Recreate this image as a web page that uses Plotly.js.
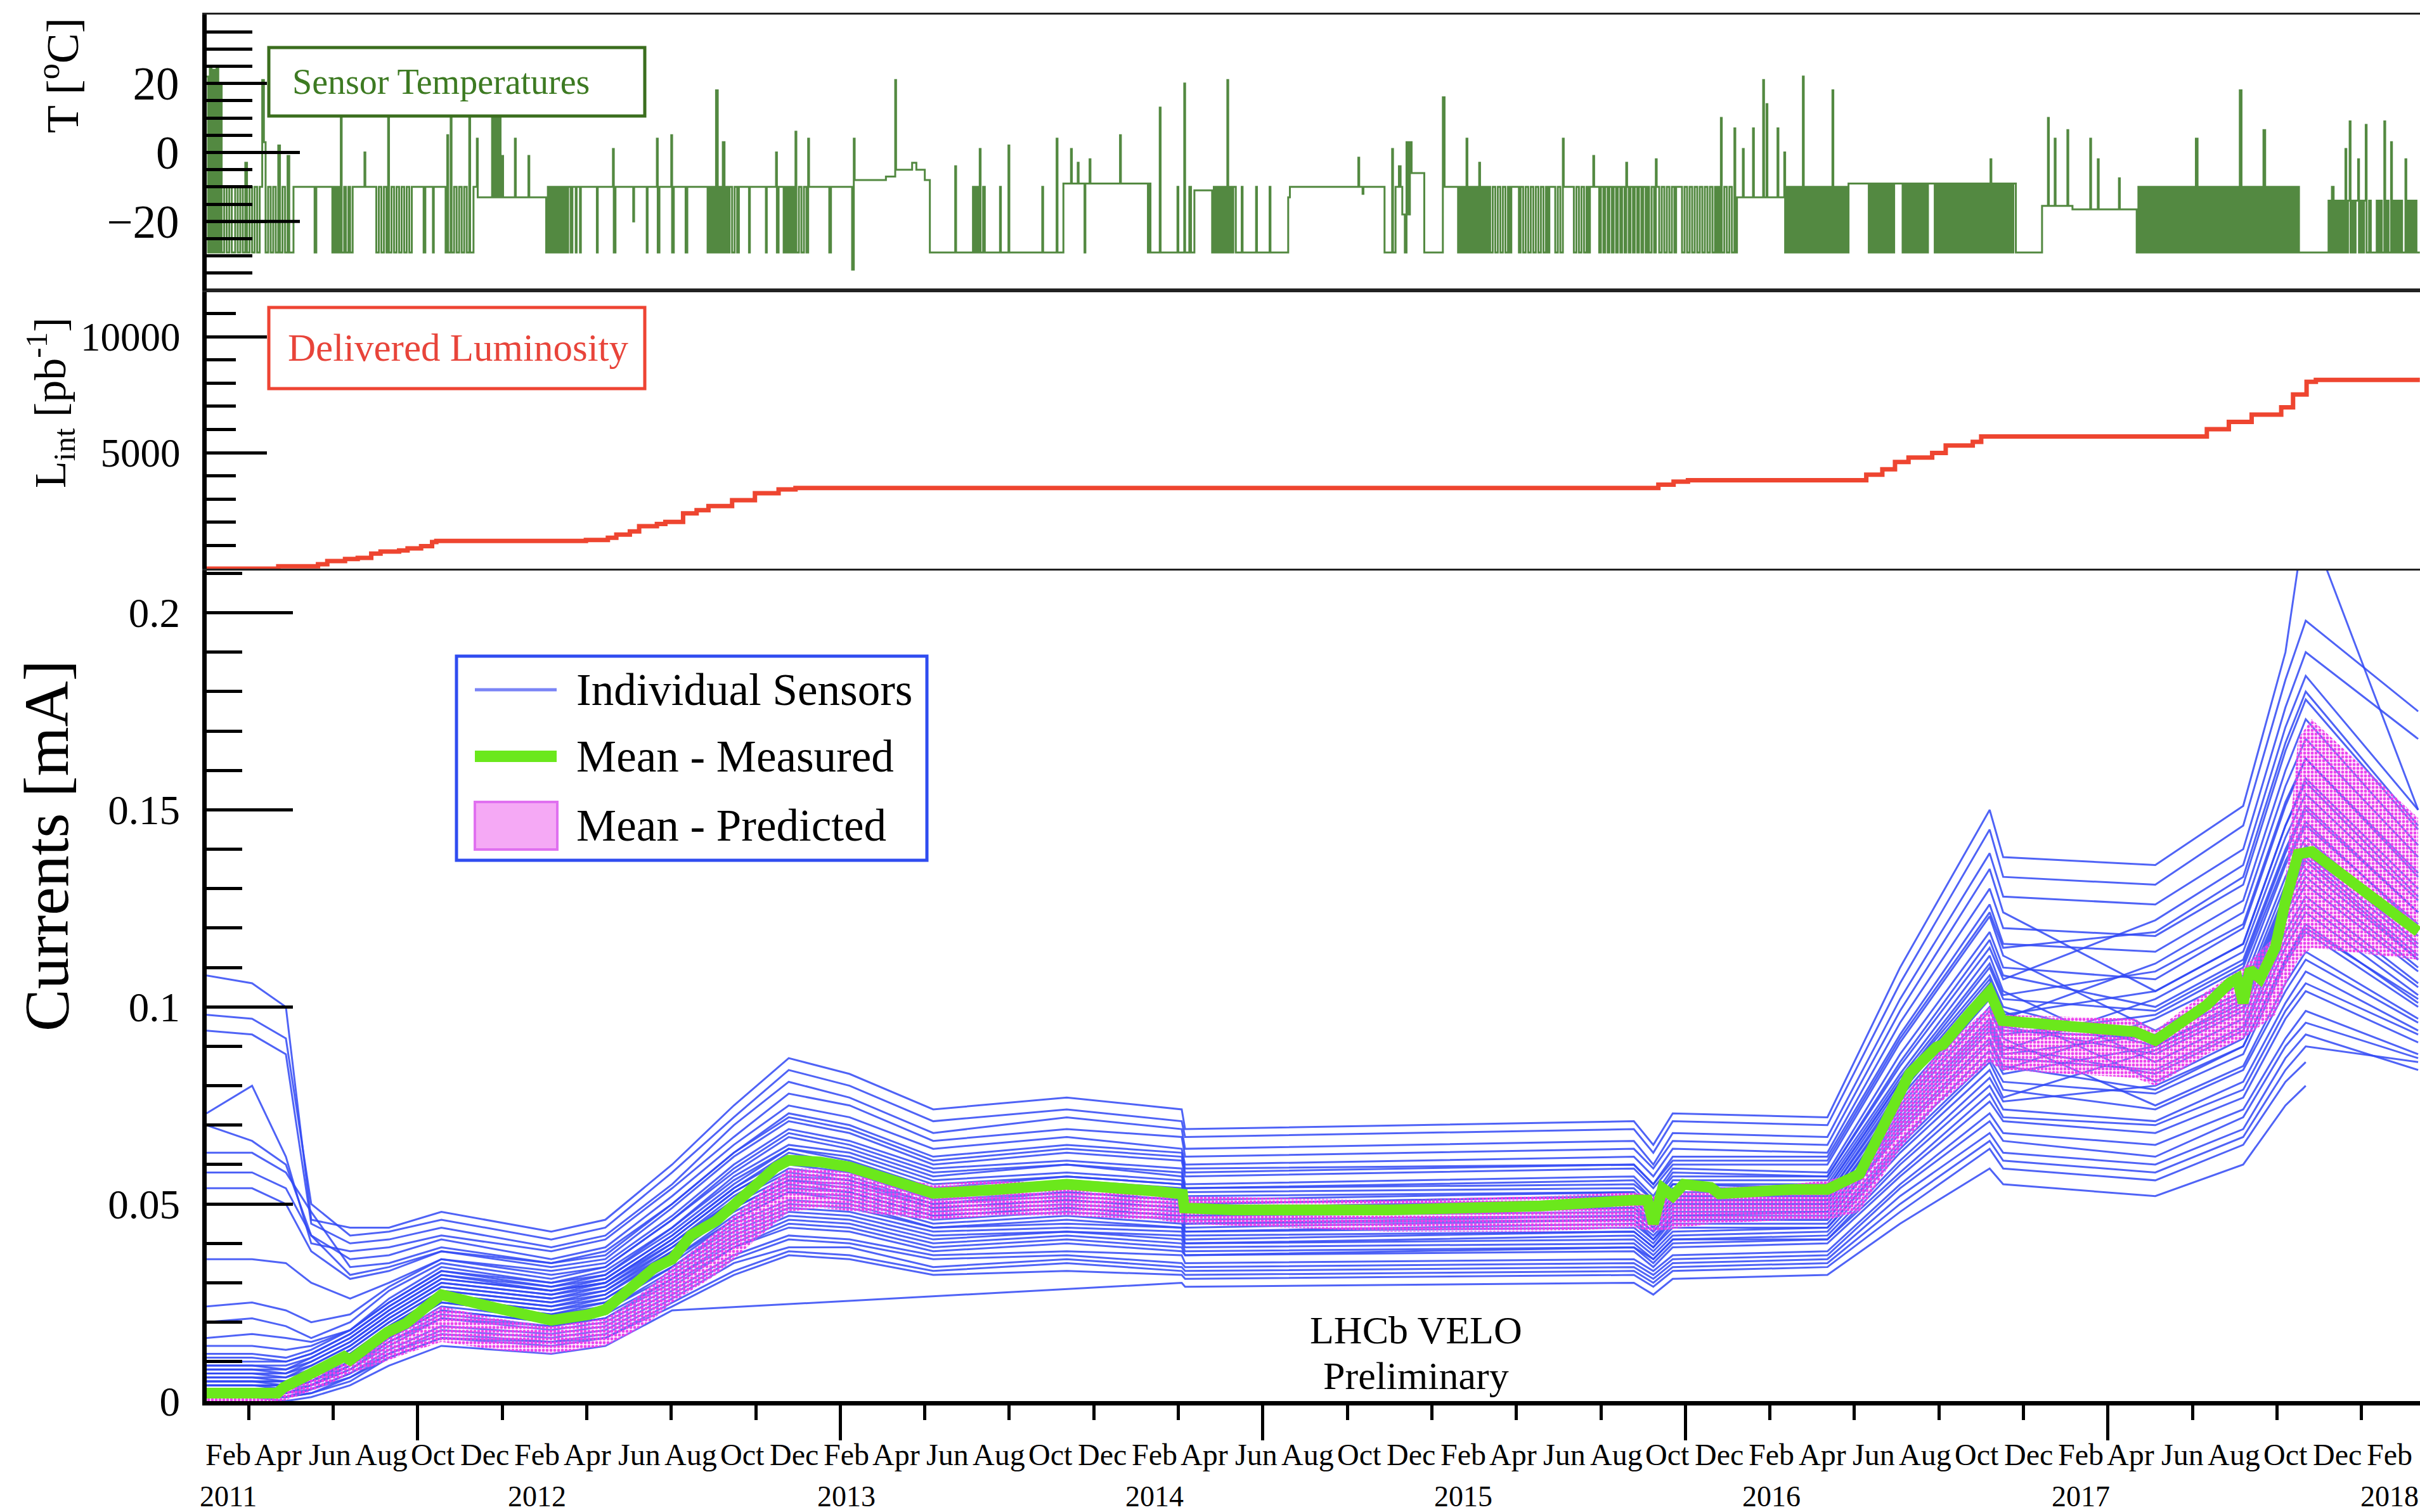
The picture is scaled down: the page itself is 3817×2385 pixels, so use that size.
<!DOCTYPE html>
<html>
<head>
<meta charset="utf-8">
<script src="https://cdn.plot.ly/plotly-3.0.1.min.js"></script>
<style>
  html, body { margin: 0; padding: 0; background: #ffffff; overflow: hidden; }
  #chart { width: 3817px; height: 2385px; }
</style>
</head>
<body>
<div id="chart"></div>
<script>
// ---------------------------------------------------------------------------
// Sensor temperature log [deg C]: change points of a step-wise reading
// ---------------------------------------------------------------------------
const tempReadings = [
  ['2011-01-06',22],['2011-01-08',-29],['2011-01-10',25],['2011-01-12',-29],['2011-01-14',24],['2011-01-16',-29],
  ['2011-01-18',25],['2011-01-20',-29],['2011-01-22',20],['2011-01-24',-29],['2011-01-27',-10],['2011-01-30',-29],
  ['2011-02-02',-10],['2011-02-05',-29],['2011-02-09',-10],['2011-02-12',-29],['2011-02-15',-10],['2011-02-18',-29],
  ['2011-02-21',-3],['2011-02-23',-29],['2011-02-26',-10],['2011-03-01',-29],['2011-03-04',-10],['2011-03-07',-29],
  ['2011-03-10',-10],['2011-03-13',21],['2011-03-15',3],['2011-03-17',-29],['2011-03-20',-10],['2011-03-23',-29],
  ['2011-03-26',-10],['2011-03-29',-29],['2011-04-01',2],['2011-04-03',-29],['2011-04-06',-10],['2011-04-09',-29],
  ['2011-04-12',-1],['2011-04-14',-29],['2011-04-19',-10],
  ['2011-05-14',-29],['2011-05-16',-10],['2011-06-04',-29],['2011-06-06',-10],['2011-06-08',-29],['2011-06-10',-10],
  ['2011-06-12',-29],['2011-06-14',10],['2011-06-15',-29],['2011-06-18',-10],['2011-06-20',-29],['2011-06-23',-10],
  ['2011-06-25',-29],['2011-06-28',-10],['2011-07-12',0],['2011-07-13',-10],['2011-07-26',-29],['2011-07-29',-10],
  ['2011-08-01',-29],['2011-08-04',-10],['2011-08-07',-29],['2011-08-09',10],['2011-08-10',-29],['2011-08-13',-10],
  ['2011-08-16',-29],['2011-08-19',-10],['2011-08-22',-29],['2011-08-25',-10],['2011-08-28',-29],['2011-08-31',-10],
  ['2011-09-03',-29],['2011-09-06',-10],['2011-09-20',-29],['2011-09-22',-10],['2011-10-01',-29],['2011-10-02',-10],
  ['2011-10-16',-29],['2011-10-18',5],['2011-10-19',-29],['2011-10-22',10],['2011-10-23',-29],['2011-10-26',-10],
  ['2011-10-29',-29],['2011-11-01',-10],['2011-11-04',-29],['2011-11-07',-10],['2011-11-10',-29],['2011-11-13',10],
  ['2011-11-14',-29],['2011-11-18',-10],['2011-11-22',4],['2011-11-23',-13],['2011-12-10',10],['2011-12-12',-13],
  ['2011-12-14',10],['2011-12-16',-13],['2011-12-18',10],['2011-12-20',-13],['2011-12-22',-1],['2011-12-23',-13],
  ['2012-01-06',4],['2012-01-07',-13],['2012-01-22',-1],['2012-01-23',-13],
  ['2012-02-12',-29],['2012-02-14',-10],['2012-02-16',-29],['2012-02-18',-10],['2012-02-20',-29],['2012-02-22',-10],
  ['2012-02-24',-29],['2012-02-26',-10],['2012-02-28',-29],['2012-03-01',-10],['2012-03-03',-29],['2012-03-05',-10],
  ['2012-03-07',-29],['2012-03-09',-10],['2012-03-12',-29],['2012-03-14',-10],['2012-03-18',-29],['2012-03-19',-10],
  ['2012-03-23',-29],['2012-03-24',-10],['2012-04-12',-29],['2012-04-13',-10],['2012-05-01',1],['2012-05-02',-29],
  ['2012-05-04',-10],['2012-05-25',-20],['2012-05-26',-10],['2012-06-10',-29],['2012-06-11',-10],['2012-06-22',4],
  ['2012-06-23',-29],['2012-06-25',-10],['2012-07-09',5],['2012-07-10',-29],['2012-07-12',-10],['2012-07-26',-29],
  ['2012-07-28',-10],['2012-08-21',-29],['2012-08-23',-10],['2012-08-25',-29],['2012-08-27',-10],['2012-08-29',-29],
  ['2012-08-31',18],['2012-09-02',-29],['2012-09-04',-10],['2012-09-06',-29],['2012-09-08',3],['2012-09-10',-29],
  ['2012-09-12',-10],['2012-09-14',-29],['2012-09-16',-10],['2012-09-19',-29],['2012-09-22',-10],['2012-09-25',-29],
  ['2012-09-27',-10],['2012-10-09',-29],['2012-10-10',-10],['2012-10-29',-29],['2012-10-30',-10],['2012-11-10',0],
  ['2012-11-11',-29],['2012-11-13',-10],['2012-11-19',-29],['2012-11-21',-10],['2012-11-23',-29],['2012-11-25',-10],
  ['2012-11-27',-29],['2012-11-29',-10],['2012-12-01',-29],['2012-12-03',6],['2012-12-04',-29],['2012-12-07',-10],
  ['2012-12-10',-29],['2012-12-13',-10],['2012-12-16',-29],['2012-12-18',4],['2012-12-19',-10],['2013-01-12',-29],
  ['2013-01-14',-10],['2013-02-08',-34],['2013-02-10',4],['2013-02-11',-8],['2013-03-20',-7],['2013-03-31',21],
  ['2013-04-01',-5],['2013-04-20',-3],['2013-04-25',-5],['2013-05-05',-8],['2013-05-11',-29],['2013-06-10',-4],
  ['2013-06-11',-29],['2013-07-01',-10],['2013-07-03',-29],['2013-07-05',-10],['2013-07-07',-29],['2013-07-09',1],
  ['2013-07-10',-29],['2013-07-13',-10],['2013-07-15',-29],['2013-08-02',-10],['2013-08-03',-29],['2013-08-12',2],
  ['2013-08-13',-29],['2013-09-21',-10],['2013-09-22',-29],['2013-10-08',4],['2013-10-09',-29],['2013-10-16',-9],
  ['2013-10-25',1],['2013-10-26',-9],['2013-11-02',-3],['2013-11-03',-9],['2013-11-10',-29],['2013-11-11',-9],
  ['2013-11-16',-2],['2013-11-17',-9],['2013-12-22',5],['2013-12-23',-9],['2014-01-24',-29],['2014-01-25',-9],
  ['2014-01-27',-29],['2014-02-07',13],['2014-02-08',-29],['2014-02-28',-10],['2014-03-01',-29],['2014-03-08',20],
  ['2014-03-09',-29],['2014-03-14',-10],['2014-03-16',-29],['2014-03-20',-11],['2014-04-10',-29],['2014-04-12',-10],
  ['2014-04-14',-29],['2014-04-16',-10],['2014-04-18',-29],['2014-04-20',-10],['2014-04-22',-29],['2014-04-24',-10],
  ['2014-04-26',-29],['2014-04-28',21],['2014-04-29',-29],['2014-05-01',-10],['2014-05-03',-29],['2014-05-05',-10],
  ['2014-05-08',-29],['2014-05-15',-10],['2014-05-16',-29],['2014-06-01',-10],['2014-06-02',-29],['2014-06-17',-10],
  ['2014-06-18',-29],
  ['2014-07-09',-13],['2014-07-11',-10],['2014-09-30',-1.5],['2014-10-01',-10],['2014-10-05',-12],['2014-10-06',-10],
  ['2014-10-31',-29],['2014-11-09',1],['2014-11-10',-29],['2014-11-13',-10],['2014-11-17',-4],['2014-11-19',-10],
  ['2014-11-21',-18],['2014-11-24',-29],['2014-11-26',3],['2014-11-28',-18],['2014-11-30',3],['2014-12-02',-6],
  ['2014-12-17',-29],['2015-01-08',16],['2015-01-10',-10],
  ['2015-01-26',-29],['2015-01-28',-10],['2015-01-30',-29],['2015-02-01',-10],['2015-02-03',-29],['2015-02-05',4],
  ['2015-02-06',-29],['2015-02-08',-10],['2015-02-10',-29],['2015-02-12',-10],['2015-02-14',-29],['2015-02-16',-10],
  ['2015-02-18',-29],['2015-02-20',-3],['2015-02-21',-29],['2015-02-23',-10],['2015-02-25',-29],['2015-02-27',-10],
  ['2015-03-01',-29],['2015-03-03',-10],['2015-03-05',-29],['2015-03-08',-10],['2015-03-11',-29],['2015-03-14',-10],
  ['2015-03-17',-29],['2015-03-20',-10],['2015-03-23',-29],['2015-03-26',-10],['2015-03-28',-29],['2015-03-30',-10],
  ['2015-04-08',-29],['2015-04-10',-10],['2015-04-13',-29],['2015-04-16',-10],['2015-04-19',-29],['2015-04-22',-10],
  ['2015-04-25',-29],['2015-04-28',-10],['2015-05-01',-29],['2015-05-04',-10],['2015-05-07',-29],['2015-05-10',-10],
  ['2015-05-12',-29],['2015-05-14',-10],['2015-05-21',-29],['2015-05-24',-10],['2015-05-27',-29],['2015-05-30',4],
  ['2015-05-31',-10],['2015-06-12',-29],['2015-06-15',-10],['2015-06-18',-29],['2015-06-21',-10],['2015-06-24',-29],
  ['2015-06-27',-10],['2015-06-29',-29],['2015-07-01',-10],['2015-07-05',-1],['2015-07-06',-10],
  ['2015-07-12',-29],['2015-07-14',-10],['2015-07-17',-29],['2015-07-19',-10],['2015-07-22',-29],['2015-07-24',-10],
  ['2015-07-27',-29],['2015-07-29',-10],['2015-08-01',-29],['2015-08-03',-10],['2015-08-06',-29],['2015-08-08',-10],
  ['2015-08-11',-29],['2015-08-13',-3],['2015-08-14',-10],['2015-08-16',-29],['2015-08-18',-10],['2015-08-21',-29],
  ['2015-08-23',-10],['2015-08-26',-29],['2015-08-28',-10],['2015-08-31',-29],['2015-09-02',-10],['2015-09-05',-29],
  ['2015-09-07',-10],['2015-09-09',-29],['2015-09-12',-10],['2015-09-15',-29],['2015-09-17',-2],['2015-09-18',-10],
  ['2015-09-21',-29],['2015-09-24',-10],['2015-09-27',-29],['2015-09-30',-10],['2015-10-03',-29],['2015-10-06',-10],
  ['2015-10-09',-29],['2015-10-11',-10],['2015-10-18',-29],['2015-10-21',-10],['2015-10-24',-29],['2015-10-27',-10],
  ['2015-10-30',-29],['2015-11-02',-10],['2015-11-05',-29],['2015-11-08',-10],['2015-11-11',-29],['2015-11-14',-10],
  ['2015-11-17',-29],['2015-11-20',-10],['2015-11-23',-29],['2015-11-26',-10],['2015-11-28',-29],['2015-11-30',-10],
  ['2015-12-02',-29],['2015-12-03',10],['2015-12-04',-29],['2015-12-07',-10],['2015-12-10',-29],['2015-12-13',-10],
  ['2015-12-16',-29],['2015-12-19',7],['2015-12-20',-29],['2015-12-22',-13],['2015-12-29',1],['2015-12-30',-13],
  ['2016-01-10',7],['2016-01-11',-13],['2016-01-22',21],['2016-01-23',-13],['2016-01-26',14],['2016-01-27',-13],
  ['2016-02-08',7],['2016-02-09',-13],['2016-02-16',0],
  ['2016-02-17',-29],['2016-02-19',-10],['2016-02-21',-29],['2016-02-23',-10],['2016-02-25',-29],['2016-02-27',-10],
  ['2016-02-29',-29],['2016-03-02',-10],['2016-03-04',-29],['2016-03-06',-10],['2016-03-08',-29],['2016-03-09',22],
  ['2016-03-10',-29],['2016-03-12',-10],['2016-03-14',-29],['2016-03-16',-10],['2016-03-18',-29],['2016-03-20',-10],
  ['2016-03-22',-29],['2016-03-24',-10],['2016-03-26',-29],['2016-03-28',-10],['2016-03-30',-29],['2016-04-01',-10],
  ['2016-04-03',-29],['2016-04-05',-10],['2016-04-07',-29],['2016-04-09',-10],['2016-04-11',-29],['2016-04-13',18],
  ['2016-04-14',-29],['2016-04-16',-10],['2016-04-18',-29],['2016-04-20',-10],['2016-04-22',-29],['2016-04-24',-10],
  ['2016-04-26',-29],['2016-04-28',-10],['2016-04-30',-29],['2016-05-02',-9],
  ['2016-05-26',-29],['2016-05-28',-9],['2016-05-30',-29],['2016-06-01',-9],['2016-06-03',-29],['2016-06-05',-9],
  ['2016-06-07',-29],['2016-06-09',-9],['2016-06-11',-29],['2016-06-13',-9],['2016-06-15',-29],['2016-06-17',-9],
  ['2016-06-19',-29],['2016-06-21',-9],['2016-06-23',-29],['2016-06-25',-9],
  ['2016-07-05',-29],['2016-07-07',-9],['2016-07-09',-29],['2016-07-11',-9],['2016-07-13',-29],['2016-07-15',-9],
  ['2016-07-17',-29],['2016-07-19',-9],['2016-07-21',-29],['2016-07-23',-9],['2016-07-25',-29],['2016-07-27',-9],
  ['2016-07-29',-29],['2016-07-31',-9],['2016-08-02',-29],['2016-08-04',-9],
  ['2016-08-12',-29],['2016-08-14',-9],['2016-08-16',-29],['2016-08-18',-9],['2016-08-20',-29],['2016-08-22',-9],
  ['2016-08-24',-29],['2016-08-26',-9],['2016-08-28',-29],['2016-08-30',-9],['2016-09-01',-29],['2016-09-03',-9],
  ['2016-09-05',-29],['2016-09-07',-9],['2016-09-09',-29],['2016-09-11',-9],['2016-09-13',-29],['2016-09-15',-9],
  ['2016-09-17',-29],['2016-09-19',-9],['2016-09-21',-29],['2016-09-23',-9],['2016-09-25',-29],['2016-09-27',-9],
  ['2016-09-29',-29],['2016-10-01',-9],['2016-10-03',-29],['2016-10-05',-9],['2016-10-07',-29],['2016-10-09',-9],
  ['2016-10-11',-29],['2016-10-13',-9],['2016-10-15',-29],['2016-10-17',-2],['2016-10-18',-29],['2016-10-20',-9],
  ['2016-10-22',-29],['2016-10-24',-9],['2016-10-26',-29],['2016-10-28',-9],['2016-10-30',-29],['2016-11-01',-9],
  ['2016-11-03',-29],['2016-11-05',-9],['2016-11-07',-29],['2016-11-09',-9],['2016-11-11',-29],['2016-11-13',-9],
  ['2016-11-16',-29],
  ['2016-12-17',-15.5],['2016-12-24',10],['2016-12-25',-15.5],['2017-01-01',4],['2017-01-02',-15.5],['2017-01-16',6.5],
  ['2017-01-17',-15.5],['2017-01-22',-16.5],['2017-02-12',4],['2017-02-13',-16.5],['2017-02-21',-2],['2017-02-22',-16.5],
  ['2017-03-18',-7.5],['2017-03-19',-16.5],
  ['2017-04-08',-29],['2017-04-10',-10],['2017-04-12',-29],['2017-04-14',-10],['2017-04-16',-29],['2017-04-18',-10],
  ['2017-04-20',-29],['2017-04-22',-10],['2017-04-24',-29],['2017-04-26',-10],['2017-04-28',-29],['2017-04-30',-10],
  ['2017-05-02',-29],['2017-05-04',-10],['2017-05-06',-29],['2017-05-08',-10],['2017-05-10',-29],['2017-05-12',-10],
  ['2017-05-14',-29],['2017-05-16',-10],['2017-05-18',-29],['2017-05-20',-10],['2017-05-22',-29],['2017-05-24',-10],
  ['2017-05-26',-29],['2017-05-28',-10],['2017-05-30',-29],['2017-06-01',-10],['2017-06-03',-29],['2017-06-05',-10],
  ['2017-06-07',-29],['2017-06-09',-10],['2017-06-11',-29],['2017-06-13',-10],['2017-06-15',-29],['2017-06-17',4],
  ['2017-06-19',-29],['2017-06-21',-10],['2017-06-23',-29],['2017-06-25',-10],['2017-06-27',-29],['2017-06-29',-10],
  ['2017-07-01',-29],['2017-07-03',-10],['2017-07-05',-29],['2017-07-07',-10],['2017-07-09',-29],['2017-07-11',-10],
  ['2017-07-13',-29],['2017-07-15',-10],['2017-07-17',-29],['2017-07-19',-10],['2017-07-21',-29],['2017-07-23',-10],
  ['2017-07-25',-29],['2017-07-27',-10],['2017-07-29',-29],['2017-07-31',-10],['2017-08-02',-29],['2017-08-04',-10],
  ['2017-08-06',-29],['2017-08-08',18],['2017-08-10',-29],['2017-08-12',-10],['2017-08-14',-29],['2017-08-16',-10],
  ['2017-08-18',-29],['2017-08-20',-10],['2017-08-22',-29],['2017-08-24',-10],['2017-08-26',-29],['2017-08-28',-10],
  ['2017-08-30',-29],['2017-09-01',-10],['2017-09-03',-29],['2017-09-05',6.5],['2017-09-07',-29],['2017-09-09',-10],
  ['2017-09-11',-29],['2017-09-13',-10],['2017-09-15',-29],['2017-09-17',-10],['2017-09-19',-29],['2017-09-21',-10],
  ['2017-09-23',-29],['2017-09-25',-10],['2017-09-27',-29],['2017-09-29',-10],['2017-10-01',-29],['2017-10-03',-10],
  ['2017-10-05',-29],['2017-10-07',-10],['2017-10-09',-29],['2017-10-11',-10],['2017-10-13',-29],['2017-10-15',-10],
  ['2017-10-17',-29],
  ['2017-11-21',-14],['2017-11-23',-29],['2017-11-25',-10],['2017-11-27',-29],['2017-11-29',-14],['2017-12-01',-29],
  ['2017-12-03',-14],['2017-12-05',-29],['2017-12-07',-14],['2017-12-09',-29],['2017-12-11',1],['2017-12-12',-29],
  ['2017-12-14',-14],['2017-12-16',9],['2017-12-17',-29],['2017-12-19',-14],['2017-12-21',-29],['2017-12-23',-14],
  ['2017-12-26',-2],['2017-12-27',-29],['2017-12-29',-14],['2017-12-31',-29],['2018-01-02',-14],['2018-01-04',8],
  ['2018-01-05',-29],['2018-01-08',-14],['2018-01-10',-29],['2018-01-17',-14],['2018-01-19',-29],['2018-01-21',-14],
  ['2018-01-23',-29],['2018-01-26',9],['2018-01-27',-29],['2018-01-29',-14],['2018-01-31',-29],['2018-02-03',3],
  ['2018-02-04',-29],['2018-02-06',-14],['2018-02-08',-29],['2018-02-10',-14],['2018-02-12',-29],['2018-02-14',-14],
  ['2018-02-16',-29],['2018-02-20',-2],['2018-02-21',-29],['2018-02-23',-14],['2018-02-25',-29],['2018-02-27',-14],
  ['2018-03-01',-29],['2018-03-03',-14],['2018-03-05',-29],['2018-03-09',-29]
];

// ---------------------------------------------------------------------------
// Integrated delivered luminosity [pb^-1]: change points
// ---------------------------------------------------------------------------
const lumReadings = [
  ['2011-01-06',0],['2011-03-31',0],['2011-04-01',100],['2011-05-08',100],['2011-05-18',190],['2011-05-29',330],
  ['2011-06-19',420],['2011-07-04',465],['2011-07-20',650],['2011-07-31',740],['2011-08-22',785],['2011-09-01',876],
  ['2011-09-17',967],['2011-09-30',1150],['2011-10-05',1196],['2012-03-24',1196],['2012-03-30',1240],['2012-04-25',1333],
  ['2012-05-05',1470],['2012-05-21',1607],['2012-06-01',1834],['2012-06-22',1925],['2012-07-02',2017],['2012-07-23',2382],
  ['2012-08-08',2519],['2012-08-22',2700],['2012-09-19',2950],['2012-10-16',3250],['2012-11-13',3420],['2012-12-03',3480],
  ['2015-08-28',3480],['2015-09-20',3620],['2015-10-08',3750],['2015-10-25',3813],['2016-05-09',3813],['2016-05-23',4049],
  ['2016-06-11',4285],['2016-06-26',4599],['2016-07-12',4788],['2016-08-09',4992],['2016-08-25',5307],['2016-09-26',5464],
  ['2016-10-06',5700],['2017-05-26',5700],['2017-06-30',6014],['2017-07-26',6329],['2017-08-22',6643],['2017-09-08',6643],
  ['2017-09-26',6958],['2017-10-10',7508],['2017-10-26',8058],['2017-11-06',8137],['2018-03-09',8137]
];

// ---------------------------------------------------------------------------
// Leakage currents of individual sensors [mA]
// ---------------------------------------------------------------------------
const sensorDates = [
  '2011-01-06','2011-03-01','2011-04-10','2011-05-10','2011-06-25','2011-08-10','2011-10-11','2012-02-18',
  '2012-04-22','2012-07-10','2012-09-21','2012-11-25','2013-02-05','2013-05-15','2013-10-20','2014-03-05',
  '2014-03-09','2015-08-22','2015-09-14','2015-10-07','2016-04-07','2016-07-02','2016-10-16','2016-11-01',
  '2017-04-30','2017-08-12','2017-10-01','2017-10-25','2018-03-07'
];
const sensor01 = [0.001,0.001,0.000,0.001,0.004,0.009,0.014,0.012,0.014,0.023,null,null,null,null,null,0.030,0.029,0.030,0.027,0.031,0.032,0.045,0.059,0.055,0.052,0.060,0.075,0.080,null];
const sensor02 = [0.001,0.001,0.001,0.002,0.005,0.011,0.016,0.014,0.016,0.024,0.032,0.037,0.036,0.032,0.033,0.032,0.031,0.032,0.029,0.033,0.034,0.048,0.064,0.059,0.056,0.065,0.081,0.086,null];
const sensor03 = [0.001,0.001,0.001,0.003,0.006,0.012,0.017,0.015,0.017,0.026,0.035,0.039,0.039,0.034,0.036,0.034,0.033,0.034,0.031,0.035,0.036,0.052,0.068,0.063,0.060,0.069,0.087,0.093,0.084];
const sensor04 = [0.002,0.002,0.002,0.003,0.007,0.013,0.019,0.017,0.019,0.028,0.037,0.042,0.041,0.037,0.038,0.037,0.035,0.036,0.033,0.037,0.038,0.055,0.073,0.068,0.065,0.074,0.092,0.099,0.088];
const sensor05 = [0.002,0.002,0.002,0.004,0.008,0.014,0.021,0.018,0.020,0.029,0.039,0.044,0.043,0.038,0.040,0.038,0.037,0.038,0.034,0.039,0.040,0.057,0.076,0.071,0.068,0.077,0.097,0.104,0.091];
const sensor06 = [0.003,0.003,0.002,0.004,0.009,0.015,0.022,0.019,0.021,0.031,0.040,0.046,0.045,0.040,0.042,0.040,0.038,0.039,0.036,0.041,0.041,0.060,0.080,0.074,0.071,0.081,0.101,0.109,0.094];
const sensor07 = [0.003,0.003,0.003,0.005,0.009,0.016,0.023,0.020,0.023,0.032,0.042,0.048,0.047,0.042,0.043,0.042,0.040,0.041,0.037,0.042,0.043,0.063,0.084,0.077,0.089,0.100,0.126,0.135,0.112];
const sensor08 = [0.004,0.004,0.003,0.005,0.010,0.017,0.025,0.022,0.024,0.034,0.044,0.050,0.049,0.044,0.045,0.044,0.041,0.043,0.039,0.044,0.044,0.065,0.087,0.081,0.078,0.088,0.111,0.119,0.100];
const sensor09 = [0.004,0.004,0.004,0.006,0.011,0.018,0.026,0.023,0.025,0.035,0.046,0.053,0.051,0.045,0.047,0.045,0.043,0.044,0.040,0.046,0.046,0.068,0.091,0.084,0.097,0.108,0.136,0.146,0.121];
const sensor10 = [0.005,0.005,0.005,0.007,0.012,0.019,0.027,0.024,0.026,0.036,0.047,0.054,0.053,0.047,0.049,0.047,0.044,0.046,0.041,0.047,0.047,0.070,0.094,0.087,0.084,0.095,0.119,0.128,0.106];
const sensor11 = [0.006,0.006,0.005,0.008,0.013,0.020,0.028,0.025,0.027,0.038,0.049,0.056,0.054,0.048,0.050,0.048,0.045,0.047,0.043,0.048,0.048,0.072,0.096,0.089,0.102,0.114,0.143,0.154,0.127];
const sensor12 = [0.007,0.007,0.006,0.009,0.014,0.021,0.029,0.026,0.028,0.039,0.050,0.057,0.056,0.049,0.051,0.049,0.047,0.048,0.044,0.050,0.050,0.074,0.099,0.092,0.075,0.085,0.106,0.114,0.097];
const sensor13 = [0.008,0.008,0.007,0.010,0.015,0.022,0.030,0.027,0.029,0.040,0.051,0.059,0.057,0.050,0.053,0.051,0.048,0.049,0.045,0.051,0.051,0.076,0.102,0.094,0.092,0.103,0.129,0.139,0.115];
const sensor14 = [0.009,0.009,0.008,0.011,0.016,0.023,0.031,0.028,0.030,0.041,0.053,0.061,0.059,0.052,0.054,0.052,0.049,0.051,0.046,0.052,0.052,0.078,0.105,0.097,0.111,0.124,0.156,0.168,0.138];
const sensor15 = [0.010,0.010,0.010,0.012,0.017,0.024,0.032,0.028,0.031,0.042,0.054,0.062,0.060,0.053,0.055,0.053,0.050,0.052,0.047,0.053,0.053,0.080,0.107,0.099,0.081,0.092,0.115,0.124,0.103];
const sensor16 = [0.012,0.012,0.011,0.013,0.018,0.025,0.033,0.029,0.032,0.043,0.055,0.064,0.061,0.054,0.057,0.055,0.051,0.053,0.048,0.055,0.054,0.081,0.110,0.102,0.099,0.111,0.139,0.150,0.124];
const sensor17 = [0.016,0.017,0.016,0.015,0.018,0.026,0.034,0.030,0.033,0.044,0.057,0.065,0.063,0.056,0.058,0.056,0.053,0.054,0.049,0.056,0.056,0.083,0.113,0.104,0.086,0.097,0.122,0.131,0.109];
const sensor18 = [0.020,0.021,0.019,0.016,0.020,0.028,0.035,0.031,0.034,0.046,0.058,0.067,0.064,0.057,0.060,0.057,0.054,0.055,0.051,0.057,0.057,0.085,0.115,0.107,0.122,0.136,0.171,0.184,0.150];
const sensor19 = [0.036,0.036,0.035,0.030,0.026,0.030,0.036,0.033,0.035,0.047,0.060,0.069,0.066,0.059,0.061,0.059,0.055,0.057,0.052,0.059,0.058,0.088,0.119,0.110,0.107,0.120,0.151,0.163,0.134];
const sensor20 = [0.054,0.054,0.050,0.038,0.031,0.033,0.038,0.034,0.036,0.049,0.062,0.071,0.068,0.060,0.063,0.061,0.057,0.059,0.054,0.060,0.060,0.091,0.123,0.113,0.094,0.106,0.133,0.143,0.118];
const sensor21 = [0.063,0.063,0.058,0.048,0.034,0.035,0.039,0.035,0.038,0.050,0.063,0.073,0.070,0.062,0.065,0.063,0.059,0.060,0.055,0.062,0.062,0.093,0.126,0.116,0.114,0.127,0.160,0.173,0.141];
const sensor22 = [0.070,0.066,0.060,0.042,0.036,0.037,0.041,0.036,0.039,0.052,0.065,0.075,0.072,0.064,0.067,0.064,0.060,0.062,0.057,0.064,0.063,0.096,0.130,0.120,0.118,0.131,0.165,0.178,0.145];
const sensor23 = [0.073,0.080,0.062,0.040,0.038,0.039,0.042,0.038,0.041,0.054,0.067,0.078,0.075,0.066,0.069,0.067,0.062,0.064,0.059,0.066,0.065,0.099,0.135,0.124,0.104,0.116,0.146,0.158,0.130];
const sensor24 = [0.094,0.093,0.088,0.045,0.040,0.041,0.044,0.039,0.042,0.055,0.070,0.081,0.077,0.068,0.072,0.069,0.064,0.066,0.060,0.068,0.067,0.102,0.139,0.128,0.126,0.140,0.176,0.190,0.168];
const sensor25 = [0.098,0.097,0.092,0.050,0.042,0.043,0.046,0.041,0.044,0.058,0.072,0.084,0.080,0.071,0.074,0.071,0.067,0.069,0.063,0.071,0.070,0.106,0.145,0.133,0.131,0.146,0.183,0.198,0.175];
const sensor26 = [0.108,0.106,0.100,0.046,0.044,0.044,0.048,0.043,0.046,0.060,0.075,0.087,0.083,0.074,0.077,0.074,0.069,0.071,0.065,0.073,0.072,0.110,0.150,0.138,0.136,0.151,0.190,0.225,0.150];
const sensor27 = [0.001,0.001,0.001,0.002,0.006,0.011,0.016,0.015,0.016,0.025,0.033,0.038,0.037,0.033,0.035,0.033,0.032,0.033,0.030,0.034,0.035,0.050,0.066,0.061,0.058,0.067,0.084,0.090,0.086];
const sensor28 = [0.002,0.002,0.001,0.003,0.007,0.012,0.018,0.016,0.018,0.027,0.036,0.041,0.040,0.036,0.037,0.035,0.034,0.035,0.032,0.036,0.037,0.054,0.071,0.066,0.062,0.072,0.090,0.096,0.087];
const sensor29 = [0.002,0.003,0.002,0.004,0.008,0.015,0.021,0.019,0.021,0.030,0.039,0.045,0.044,0.039,0.041,0.039,0.037,0.039,0.035,0.040,0.041,0.058,0.078,0.072,0.070,0.079,0.099,0.106,0.093];
const sensor30 = [0.003,0.003,0.003,0.004,0.009,0.016,0.023,0.020,0.022,0.031,0.041,0.047,0.046,0.041,0.043,0.041,0.039,0.040,0.036,0.041,0.042,0.061,0.082,0.076,0.080,0.090,0.112,0.120,0.102];
const sensor31 = [0.003,0.003,0.003,0.005,0.010,0.016,0.024,0.021,0.023,0.033,0.043,0.049,0.048,0.043,0.044,0.043,0.040,0.042,0.038,0.043,0.044,0.064,0.086,0.079,0.074,0.084,0.104,0.112,0.096];
const sensor32 = [0.004,0.004,0.004,0.006,0.010,0.017,0.025,0.022,0.025,0.034,0.045,0.051,0.050,0.044,0.046,0.044,0.042,0.043,0.039,0.045,0.045,0.066,0.089,0.083,0.090,0.101,0.127,0.137,0.112];
const sensor33 = [0.005,0.005,0.004,0.006,0.011,0.018,0.026,0.023,0.026,0.036,0.046,0.053,0.052,0.046,0.048,0.046,0.043,0.045,0.041,0.046,0.046,0.069,0.092,0.085,0.079,0.090,0.112,0.121,0.101];
const sensor34 = [0.005,0.005,0.005,0.007,0.012,0.019,0.027,0.024,0.027,0.037,0.048,0.055,0.053,0.047,0.049,0.047,0.045,0.046,0.042,0.047,0.048,0.071,0.095,0.088,0.093,0.104,0.131,0.141,0.116];
const sensor35 = [0.006,0.006,0.006,0.008,0.013,0.020,0.028,0.025,0.028,0.038,0.049,0.056,0.055,0.049,0.051,0.049,0.046,0.047,0.043,0.049,0.049,0.073,0.097,0.090,0.083,0.094,0.117,0.126,0.105];
const sensor36 = [0.007,0.007,0.007,0.009,0.014,0.021,0.029,0.026,0.029,0.039,0.051,0.058,0.056,0.050,0.052,0.050,0.047,0.049,0.044,0.050,0.050,0.075,0.100,0.093,0.098,0.110,0.137,0.147,0.120];
const sensor37 = [0.008,0.008,0.008,0.010,0.015,0.022,0.030,0.027,0.030,0.040,0.052,0.060,0.058,0.051,0.053,0.051,0.048,0.050,0.045,0.051,0.051,0.077,0.103,0.095,0.088,0.099,0.124,0.133,0.110];
const sensor38 = [0.009,0.009,0.009,0.011,0.016,0.023,0.031,0.028,0.030,0.041,0.053,0.061,0.059,0.052,0.054,0.052,0.049,0.051,0.046,0.052,0.052,0.079,0.106,0.098,0.104,0.116,0.146,0.157,0.128];
const sensor39 = [0.011,0.011,0.010,0.012,0.017,0.024,0.032,0.029,0.031,0.042,0.054,0.063,0.060,0.053,0.056,0.054,0.050,0.052,0.047,0.054,0.054,0.081,0.108,0.100,0.090,0.102,0.128,0.138,0.113];
const sensor40 = [0.014,0.014,0.013,0.014,0.018,0.025,0.033,0.030,0.032,0.044,0.056,0.064,0.062,0.055,0.057,0.055,0.052,0.053,0.049,0.055,0.055,0.082,0.111,0.103,0.109,0.121,0.152,0.163,0.133];
const sensor41 = [0.024,0.025,0.023,0.020,0.022,0.029,0.036,0.032,0.034,0.046,0.059,0.068,0.065,0.058,0.060,0.058,0.054,0.056,0.051,0.058,0.057,0.086,0.117,0.108,0.100,0.112,0.140,0.151,0.124];
const sensor42 = [0.058,0.058,0.054,0.042,0.032,0.034,0.038,0.035,0.037,0.050,0.063,0.072,0.069,0.061,0.064,0.062,0.058,0.060,0.055,0.061,0.061,0.092,0.124,0.115,0.119,0.133,0.167,0.180,0.146];
const sensorSeries = [sensor01,sensor02,sensor03,sensor04,sensor05,sensor06,sensor07,sensor08,sensor09,sensor10,
  sensor11,sensor12,sensor13,sensor14,sensor15,sensor16,sensor17,sensor18,sensor19,sensor20,sensor21,sensor22,
  sensor23,sensor24,sensor25,sensor26,sensor27,sensor28,sensor29,sensor30,sensor31,sensor32,sensor33,sensor34,
  sensor35,sensor36,sensor37,sensor38,sensor39,sensor40,sensor41,sensor42];

// ---------------------------------------------------------------------------
// Mean current, measured [mA]
// ---------------------------------------------------------------------------
const meanMeasured = [
  ['2011-01-06',0.002],['2011-03-31',0.002],['2011-04-07',0.0034],['2011-04-29',0.0056],['2011-05-28',0.0086],
  ['2011-06-18',0.0113],['2011-06-25',0.0104],['2011-07-24',0.0148],['2011-08-08',0.0175],['2011-08-30',0.0197],
  ['2011-09-20',0.0236],['2011-10-11',0.027],['2011-12-15',0.0236],['2012-02-18',0.0205],['2012-04-01',0.0219],
  ['2012-04-22',0.0232],['2012-05-21',0.0285],['2012-06-19',0.0338],['2012-07-10',0.036],['2012-08-01',0.042],
  ['2012-08-31',0.0457],['2012-09-21',0.050],['2012-10-12',0.0536],['2012-11-10',0.0594],['2012-11-25',0.0611],
  ['2012-12-31',0.0607],['2013-02-05',0.0594],['2013-05-15',0.0527],['2013-07-26',0.0536],['2013-10-20',0.055],
  ['2014-02-05',0.0532],['2014-03-06',0.0525],['2014-03-08',0.049],['2014-05-04',0.0485],['2014-11-04',0.0485],
  ['2015-05-04',0.0495],['2015-08-22',0.051],['2015-09-07',0.051],['2015-09-14',0.045],['2015-09-25',0.054],
  ['2015-10-07',0.052],['2015-10-20',0.055],['2015-11-21',0.0542],['2015-12-01',0.0526],['2016-02-25',0.0537],
  ['2016-04-07',0.0537],['2016-05-15',0.0576],['2016-07-02',0.0785],['2016-07-13',0.083],['2016-08-14',0.0898],
  ['2016-08-22',0.0905],['2016-09-24',0.0988],['2016-10-16',0.1039],['2016-10-31',0.0965],['2017-04-06',0.0937],
  ['2017-04-30',0.0915],['2017-06-30',0.1005],['2017-07-27',0.1061],['2017-08-05',0.1072],['2017-08-12',0.101],
  ['2017-08-20',0.1095],['2017-09-01',0.1072],['2017-09-19',0.1151],['2017-09-30',0.1259],['2017-10-16',0.1388],
  ['2017-11-01',0.1394],['2018-03-07',0.1191]
];

// ---------------------------------------------------------------------------
// Mean current, predicted: lower / upper edge of the band [mA]
// ---------------------------------------------------------------------------
const predDates = [
  '2011-01-06','2011-04-07','2011-05-28','2011-06-25','2011-07-24','2011-08-30','2011-10-11','2011-12-15',
  '2012-02-18','2012-04-22','2012-05-21','2012-06-19','2012-07-10','2012-08-31','2012-10-12','2012-11-25',
  '2012-12-31','2013-05-15','2013-07-26','2013-10-20','2014-02-05','2014-03-07','2014-11-04','2015-05-04',
  '2015-08-22','2015-09-14','2015-11-21','2016-02-25','2016-04-07','2016-05-15','2016-07-02','2016-08-14',
  '2016-09-24','2016-10-16','2016-10-31','2017-04-06','2017-04-30','2017-06-30','2017-08-12','2017-09-19',
  '2017-09-30','2017-10-16','2017-11-01','2018-03-07'
];
const predLower = [0.000,0.000,0.004,0.007,0.009,0.012,0.015,0.013,0.012,0.014,0.017,0.021,0.025,0.032,0.040,0.048,
  0.049,0.046,0.047,0.047,0.046,0.045,0.043,0.043,0.044,0.043,0.045,0.046,0.046,0.048,0.064,0.075,0.082,0.086,0.084,
  0.082,0.080,0.088,0.092,0.098,0.105,0.112,0.115,0.112];
const predUpper = [0.003,0.003,0.009,0.012,0.015,0.019,0.024,0.021,0.019,0.021,0.025,0.030,0.034,0.043,0.051,0.059,
  0.059,0.055,0.056,0.055,0.054,0.052,0.051,0.052,0.053,0.052,0.054,0.055,0.056,0.058,0.076,0.088,0.096,0.100,0.098,
  0.097,0.094,0.104,0.110,0.118,0.130,0.168,0.173,0.148];

// ---------------------------------------------------------------------------
// Time-axis labelling
// ---------------------------------------------------------------------------
const labelMonths = ['Feb','Apr','Jun','Aug','Oct','Dec'];
const labelMonthNums = ['02','04','06','08','10','12'];
const labelYears = ['2011','2012','2013','2014','2015','2016','2017','2018'];

// ---------------------------------------------------------------------------
// Page geometry (pixels) and helpers
// ---------------------------------------------------------------------------
const W = 3817, H = 2385;
const fx = p => p / W;          // pixel column -> paper x
const fy = p => 1 - p / H;      // pixel row    -> paper y
const X_LEFT = 326;
const TEMP_TOP = 23, TEMP_BOT = 458, LUM_BOT = 897, CUR_BOT = 2210;
const xRange = ['2011-01-06 07:00', '2018-03-09 05:00'];
const DAY_MS = 86400000;
const SERIF = 'Liberation Serif, Times New Roman, serif';

// ---------------------------------------------------------------------------
// Traces
// ---------------------------------------------------------------------------
const traces = [];

traces.push({
  x: tempReadings.map(r => r[0]), y: tempReadings.map(r => r[1]),
  xaxis: 'x3', yaxis: 'y3', type: 'scatter', mode: 'lines',
  line: { shape: 'hv', color: 'rgba(40,108,18,0.8)', width: 3 }
});

traces.push({
  x: lumReadings.map(r => r[0]), y: lumReadings.map(r => r[1]),
  xaxis: 'x2', yaxis: 'y2', type: 'scatter', mode: 'lines',
  line: { shape: 'hv', color: '#ee4530', width: 7 }
});

sensorSeries.forEach(vals => {
  traces.push({
    x: sensorDates, y: vals, xaxis: 'x', yaxis: 'y', type: 'scatter', mode: 'lines',
    connectgaps: true,
    line: { color: 'rgba(48,72,245,0.85)', width: 3 }
  });
});

traces.push({
  x: predDates, y: predLower, xaxis: 'x', yaxis: 'y', type: 'scatter', mode: 'lines',
  line: { width: 0, color: 'rgba(0,0,0,0)' }
});
traces.push({
  x: predDates, y: predUpper, xaxis: 'x', yaxis: 'y', type: 'scatter', mode: 'lines',
  line: { width: 0, color: 'rgba(0,0,0,0)' },
  fill: 'tonexty',
  fillcolor: 'rgba(240,120,240,0.25)',
  fillpattern: { shape: '.', fgcolor: 'rgba(236,60,236,0.95)', bgcolor: 'rgba(245,150,245,0.22)', size: 6, solidity: 0.5 }
});

traces.push({
  x: meanMeasured.map(r => r[0]), y: meanMeasured.map(r => r[1]),
  xaxis: 'x', yaxis: 'y', type: 'scatter', mode: 'lines',
  line: { color: '#6be81c', width: 17 }
});

// ---------------------------------------------------------------------------
// Annotations: month / year labels, axis titles, boxed captions
// ---------------------------------------------------------------------------
const annotations = [];
labelYears.forEach(yr => {
  labelMonths.forEach((mName, i) => {
    if (yr === '2018' && mName !== 'Feb') return;
    annotations.push({
      xref: 'x', yref: 'paper', x: `${yr}-${labelMonthNums[i]}-01`, y: fy(2266),
      xanchor: 'center', yanchor: 'top', showarrow: false, text: mName,
      font: { family: SERIF, size: 48, color: '#000' }
    });
  });
  annotations.push({
    xref: 'x', yref: 'paper', x: `${yr}-02-01`, y: fy(2333),
    xanchor: 'center', yanchor: 'top', showarrow: false, text: yr,
    font: { family: SERIF, size: 46, color: '#000' }
  });
});

annotations.push(
  { xref: 'paper', yref: 'paper', x: fx(93), y: fy(119), textangle: -90, showarrow: false,
    xanchor: 'center', yanchor: 'middle', text: 'T [<sup>o</sup>C]',
    font: { family: SERIF, size: 72, color: '#000' } },
  { xref: 'paper', yref: 'paper', x: fx(80), y: fy(636), textangle: -90, showarrow: false,
    xanchor: 'center', yanchor: 'middle', text: 'L<sub>int</sub> [pb<sup>-1</sup>]',
    font: { family: SERIF, size: 70, color: '#000' } },
  { xref: 'paper', yref: 'paper', x: fx(73), y: fy(1334), textangle: -90, showarrow: false,
    xanchor: 'center', yanchor: 'middle', text: 'Currents [mA]',
    font: { family: SERIF, size: 100, color: '#000' } },
  { xref: 'paper', yref: 'paper', x: fx(459), y: fy(129), showarrow: false,
    xanchor: 'left', yanchor: 'middle', text: 'Sensor Temperatures',
    font: { family: SERIF, size: 56, color: '#3d7a22' } },
  { xref: 'paper', yref: 'paper', x: fx(452), y: fy(549), showarrow: false,
    xanchor: 'left', yanchor: 'middle', text: 'Delivered Luminosity',
    font: { family: SERIF, size: 61, color: '#e8443a' } },
  { xref: 'paper', yref: 'paper', x: fx(907), y: fy(1088), showarrow: false,
    xanchor: 'left', yanchor: 'middle', text: 'Individual Sensors',
    font: { family: SERIF, size: 71, color: '#000' } },
  { xref: 'paper', yref: 'paper', x: fx(907), y: fy(1193), showarrow: false,
    xanchor: 'left', yanchor: 'middle', text: 'Mean - Measured',
    font: { family: SERIF, size: 71, color: '#000' } },
  { xref: 'paper', yref: 'paper', x: fx(907), y: fy(1302), showarrow: false,
    xanchor: 'left', yanchor: 'middle', text: 'Mean - Predicted',
    font: { family: SERIF, size: 71, color: '#000' } },
  { xref: 'paper', yref: 'paper', x: fx(2233), y: fy(2098), showarrow: false,
    xanchor: 'center', yanchor: 'middle', text: 'LHCb VELO',
    font: { family: SERIF, size: 62, color: '#000' } },
  { xref: 'paper', yref: 'paper', x: fx(2233), y: fy(2170), showarrow: false,
    xanchor: 'center', yanchor: 'middle', text: 'Preliminary',
    font: { family: SERIF, size: 62, color: '#000' } }
);

// ---------------------------------------------------------------------------
// Shapes: caption frames, legend frame and swatches, long temperature ticks
// ---------------------------------------------------------------------------
const shapes = [
  { type: 'rect', xref: 'paper', yref: 'paper', layer: 'above',
    x0: fx(424), x1: fx(1017), y0: fy(183), y1: fy(75),
    fillcolor: '#ffffff', line: { color: '#3b6e1e', width: 5 } },
  { type: 'rect', xref: 'paper', yref: 'paper', layer: 'above',
    x0: fx(424), x1: fx(1017), y0: fy(613), y1: fy(485),
    fillcolor: '#ffffff', line: { color: '#ee4433', width: 5 } },
  { type: 'rect', xref: 'paper', yref: 'paper', layer: 'above',
    x0: fx(720), x1: fx(1462), y0: fy(1357), y1: fy(1035),
    fillcolor: '#ffffff', line: { color: '#2f4cf0', width: 5 } },
  { type: 'line', xref: 'paper', yref: 'paper', layer: 'above',
    x0: fx(749), x1: fx(878), y0: fy(1088), y1: fy(1088),
    line: { color: 'rgba(115,125,245,0.95)', width: 5 } },
  { type: 'line', xref: 'paper', yref: 'paper', layer: 'above',
    x0: fx(749), x1: fx(878), y0: fy(1193), y1: fy(1193),
    line: { color: '#6be81c', width: 18 } },
  { type: 'rect', xref: 'paper', yref: 'paper', layer: 'above',
    x0: fx(749), x1: fx(879), y0: fy(1340), y1: fy(1265),
    fillcolor: 'rgba(242,140,242,0.75)', line: { color: '#e070f0', width: 4 } },
  { type: 'line', xref: 'paper', yref: 'y3', layer: 'above',
    x0: fx(X_LEFT), x1: fx(473), y0: 0, y1: 0, line: { color: '#000', width: 5 } },
  { type: 'line', xref: 'paper', yref: 'y3', layer: 'above',
    x0: fx(X_LEFT), x1: fx(473), y0: -20, y1: -20, line: { color: '#000', width: 5 } }
];

// ---------------------------------------------------------------------------
// Layout
// ---------------------------------------------------------------------------
const xDomain = [fx(X_LEFT), 1];
const commonX = { type: 'date', range: xRange, domain: xDomain, showgrid: false, zeroline: false };

const layout = {
  width: W, height: H,
  margin: { l: 0, r: 0, t: 0, b: 0 },
  paper_bgcolor: '#ffffff', plot_bgcolor: '#ffffff',
  showlegend: false, hovermode: false,
  font: { family: SERIF, color: '#000' },
  xaxis: Object.assign({}, commonX, {
    anchor: 'y', showline: true, linecolor: '#000', linewidth: 7,
    ticks: 'outside', ticklen: 55, tickwidth: 5, tickcolor: '#000',
    tick0: '2011-09-13', dtick: 500 * DAY_MS, showticklabels: false,
    minor: { ticks: 'outside', ticklen: 23, tickwidth: 5, tickcolor: '#000',
             tick0: '2011-09-13', dtick: 100 * DAY_MS, showgrid: false }
  }),
  xaxis2: Object.assign({}, commonX, {
    anchor: 'y2', showline: true, mirror: true, linecolor: '#222', linewidth: 3,
    ticks: '', showticklabels: false
  }),
  xaxis3: Object.assign({}, commonX, {
    anchor: 'y3', showline: true, mirror: true, linecolor: '#222', linewidth: 3,
    ticks: '', showticklabels: false
  }),
  yaxis: {
    domain: [fy(CUR_BOT), fy(LUM_BOT)], anchor: 'x', range: [0, 0.2112],
    showgrid: false, zeroline: false, showline: true, linecolor: '#000', linewidth: 7,
    tickmode: 'linear', tick0: 0, dtick: 0.05,
    ticks: 'inside', ticklen: 136, tickwidth: 5, tickcolor: '#000',
    minor: { tickmode: 'linear', tick0: 0, dtick: 0.01, ticks: 'inside', ticklen: 56,
             tickwidth: 5, tickcolor: '#000', showgrid: false },
    tickfont: { family: SERIF, size: 65, color: '#000' }, ticklabelstandoff: 22
  },
  yaxis2: {
    domain: [fy(LUM_BOT), fy(TEMP_BOT)], anchor: 'x2', range: [0, 12000],
    showgrid: false, zeroline: false, showline: true, linecolor: '#000', linewidth: 7,
    tickmode: 'array', tickvals: [5000, 10000], ticktext: ['5000', '10000'],
    ticks: 'inside', ticklen: 95, tickwidth: 5, tickcolor: '#000',
    minor: { tickmode: 'linear', tick0: 0, dtick: 1000, ticks: 'inside', ticklen: 46,
             tickwidth: 5, tickcolor: '#000', showgrid: false },
    tickfont: { family: SERIF, size: 63, color: '#000' }, ticklabelstandoff: 22
  },
  yaxis3: {
    domain: [fy(TEMP_BOT), fy(TEMP_TOP)], anchor: 'x3', range: [-40, 40],
    showgrid: false, zeroline: false, showline: true, linecolor: '#000', linewidth: 7,
    tickmode: 'array', tickvals: [-20, 0, 20], ticktext: ['\u221220', '0', '20'],
    ticks: 'inside', ticklen: 95, tickwidth: 5, tickcolor: '#000',
    minor: { tickmode: 'linear', tick0: 0, dtick: 5, ticks: 'inside', ticklen: 72,
             tickwidth: 5, tickcolor: '#000', showgrid: false },
    tickfont: { family: SERIF, size: 73, color: '#000' }, ticklabelstandoff: 22
  },
  annotations: annotations,
  shapes: shapes
};

Plotly.newPlot('chart', traces, layout, { staticPlot: true, displayModeBar: false });
</script>
</body>
</html>
